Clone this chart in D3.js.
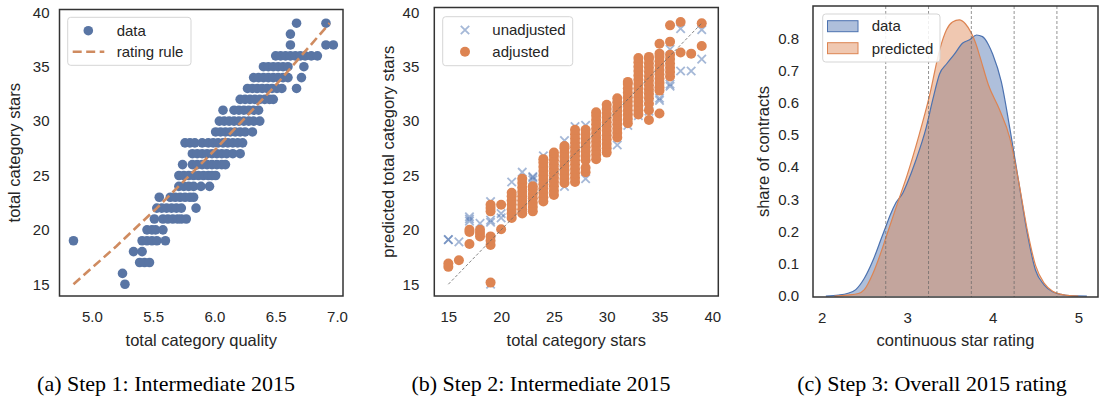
<!DOCTYPE html>
<html>
<head>
<meta charset="utf-8">
<script src="https://cdn.jsdelivr.net/npm/d3@7"></script>
<style>
  body { margin: 0; background: #fff; }
  svg text { font-family: "Liberation Sans", Arial, sans-serif; fill: #262626; }
  .caption { font-family: "Liberation Serif", "Times New Roman", serif; font-size: 22px; fill: #000; }
</style>
</head>
<body>
<div id="chart"></div>
<script>
// ---- panel (a): total category quality vs stars, one row per star total
var step1Stars = [39, 38, 37, 36, 35, 34, 33, 32, 31, 30, 29, 28, 27, 26, 25, 24, 23, 22, 21, 20, 19, 18, 17, 16, 15];
var step1Quality = [
  [6.67, 6.91],
  [6.62],
  [6.62, 6.91, 6.97],
  [6.50, 6.54, 6.58, 6.62, 6.66, 6.70, 6.74, 6.79, 6.84],
  [6.40, 6.44, 6.48, 6.52, 6.56, 6.60, 6.73],
  [6.32, 6.36, 6.40, 6.44, 6.48, 6.52, 6.56, 6.60, 6.71],
  [6.27, 6.31, 6.35, 6.39, 6.43, 6.47, 6.51, 6.55, 6.67],
  [6.21, 6.25, 6.29, 6.33, 6.37, 6.41, 6.45, 6.48],
  [6.07, 6.16, 6.20, 6.24, 6.28, 6.32, 6.36],
  [6.04, 6.08, 6.12, 6.16, 6.20, 6.24, 6.28, 6.32, 6.37],
  [6.01, 6.05, 6.09, 6.13, 6.17, 6.21, 6.25, 6.31],
  [5.76, 5.80, 5.84, 5.90, 5.95, 5.99, 6.03, 6.07, 6.11, 6.15, 6.19, 6.23],
  [5.82, 5.86, 5.90, 5.94, 5.98, 6.02, 6.06, 6.10, 6.15, 6.21],
  [5.74, 5.82, 5.86, 5.90, 5.94, 5.98, 6.02, 6.06, 6.09],
  [5.71, 5.75, 5.79, 5.83, 5.87, 5.91, 5.95, 5.98, 6.01],
  [5.71, 5.75, 5.79, 5.83, 5.89, 5.96],
  [5.55, 5.64, 5.68, 5.72, 5.76, 5.80, 5.83],
  [5.53, 5.57, 5.61, 5.65, 5.69, 5.73, 5.85],
  [5.51, 5.58, 5.62, 5.66, 5.70, 5.73, 5.77],
  [5.45, 5.49, 5.52, 5.58],
  [4.85, 5.41, 5.45, 5.49, 5.53, 5.60],
  [5.34, 5.41],
  [5.39, 5.43, 5.47],
  [5.25],
  [5.27]
];
var ruleQuality = [4.85, 5.2, 5.53, 6.0, 6.5, 6.94];
var ruleStars = [15, 18.5, 22.0, 27.3, 33.3, 39.0];
var qualityTicks = [5.0, 5.5, 6.0, 6.5, 7.0];
var starTicks = [15, 20, 25, 30, 35, 40];

// ---- panel (b): actual vs predicted total category stars
var step2Stars = [15, 16, 17, 18, 19, 20, 21, 22, 23, 24, 25, 26, 27, 28, 29, 30, 31, 32, 33, 34, 35, 36, 37, 38, 39];
var step2Adjusted = [
  [16.6, 16.9],
  [17.2],
  [18.7, 19.8, 20.0],
  [19.4, 19.7, 20.0],
  [15.15, 18.6, 19.0, 19.4, 21.7, 22.0, 22.3],
  [20.05, 22.3],
  [21.1, 21.5, 21.9, 22.3, 22.7, 23.1, 23.4],
  [21.5, 21.9, 22.3, 22.7, 23.1, 23.5, 23.9, 24.3, 24.7],
  [21.7, 22.1, 22.5, 22.9, 23.3, 23.7, 24.0],
  [22.6, 23.0, 23.4, 23.8, 24.2, 24.6, 25.0, 25.4, 25.8, 26.2, 26.5],
  [23.2, 23.6, 24.0, 24.4, 24.8, 25.2, 25.6, 26.0, 26.4, 26.8, 27.1],
  [24.3, 24.7, 25.1, 25.5, 25.9, 26.3, 26.7, 27.1, 27.5, 27.7],
  [24.4, 24.8, 25.2, 25.6, 26.0, 26.4, 26.8, 27.2, 27.6, 28.0, 28.4, 28.8, 29.2],
  [25.3, 25.7, 26.4, 26.8, 27.2, 27.6, 28.0, 28.4, 28.8, 29.2],
  [26.5, 26.9, 27.3, 27.7, 28.1, 28.5, 28.9, 29.3, 29.7, 30.1, 30.5, 30.8],
  [27.1, 27.5, 27.9, 28.3, 28.7, 29.1, 29.5, 29.9, 30.3, 30.7, 31.1, 31.5],
  [28.5, 28.9, 29.3, 29.7, 30.1, 30.5, 30.9, 31.3, 31.7, 32.1],
  [29.8, 30.2, 30.6, 31.0, 31.4, 31.8, 32.2, 32.6, 33.0, 33.4, 33.6],
  [30.6, 31.0, 31.4, 31.8, 32.2, 32.6, 33.0, 33.4, 33.8, 34.2, 34.6, 35.0, 35.4, 35.8],
  [30.1, 31.0, 31.6, 32.1, 32.5, 32.9, 33.3, 33.7, 34.1, 34.5, 34.9, 35.3, 35.7, 35.9],
  [30.7, 32.8, 33.1, 33.5, 33.9, 34.3, 34.7, 35.1, 35.5, 35.9, 36.2, 37.1],
  [34.1, 34.5, 34.9, 35.3, 35.7, 36.1, 37.3, 38.8],
  [36.3, 39.1],
  [36.2],
  [36.9, 39.0]
];
var step2Unadjusted = [
  [19.1, 19.1],
  [18.9],
  [20.8, 21.0, 21.2],
  [20.6],
  [15.0, 20.7, 20.9, 22.6],
  [21.1, 21.5],
  [22.0, 24.4],
  [23.0, 25.3],
  [24.6, 24.8, 24.9],
  [24.0, 26.8],
  [25.5],
  [24.0, 26.5, 28.2],
  [27.4, 27.6, 29.5],
  [24.7, 29.6],
  [28.5],
  [28.3, 30.0],
  [27.8, 31.4, 31.5],
  [29.6, 31.0],
  [30.5, 35.3],
  [30.9, 32.2, 32.4],
  [31.9, 32.1, 33.3, 33.6],
  [33.2, 33.4, 36.6],
  [34.6, 38.5],
  [34.6],
  [35.7, 38.4]
];
var diagonalStars = [15, 39];

// ---- panel (c): density of continuous star rating
var dataRatings = [2.05, 2.2, 2.3, 2.4, 2.5, 2.6, 2.7, 2.75, 2.8, 2.87, 2.95, 3.0, 3.1, 3.22, 3.3, 3.38, 3.46, 3.55, 3.65, 3.73, 3.81, 3.88, 3.95, 4.0, 4.1, 4.2, 4.3, 4.4, 4.5, 4.6, 4.7, 4.8, 4.9, 5.1];
var dataDensity = [0, 0.003, 0.008, 0.02, 0.055, 0.11, 0.18, 0.215, 0.25, 0.29, 0.32, 0.35, 0.42, 0.52, 0.61, 0.69, 0.72, 0.75, 0.785, 0.795, 0.81, 0.805, 0.78, 0.75, 0.665, 0.52, 0.36, 0.20, 0.08, 0.035, 0.013, 0.005, 0.001, 0];
var predRatings = [2.15, 2.3, 2.43, 2.5, 2.6, 2.7, 2.75, 2.89, 3.0, 3.14, 3.26, 3.38, 3.46, 3.53, 3.61, 3.68, 3.75, 3.8, 3.85, 3.95, 4.08, 4.2, 4.3, 4.4, 4.5, 4.6, 4.7, 4.8, 4.9, 5.0];
var predDensity = [0, 0.003, 0.008, 0.02, 0.07, 0.14, 0.18, 0.29, 0.375, 0.50, 0.62, 0.764, 0.826, 0.85, 0.857, 0.845, 0.816, 0.785, 0.743, 0.655, 0.578, 0.49, 0.36, 0.21, 0.095, 0.04, 0.015, 0.005, 0.001, 0];
var cutPoints = [2.75, 3.25, 3.75, 4.25, 4.75];
var ratingTicks = [2, 3, 4, 5];
var shareTicks = [0.0, 0.1, 0.2, 0.3, 0.4, 0.5, 0.6, 0.7, 0.8];

var captions = ["(a) Step 1: Intermediate 2015", "(b) Step 2: Intermediate 2015", "(c) Step 3: Overall 2015 rating"];

var blue = "#4C72B0";
var orange = "#DD8452";
var tickSize = "15px";
var labelSize = "16.5px";
var legendSize = "15px";

var svg = d3.select("#chart")
  .append("svg")
  .attr("width", 1102)
  .attr("height", 405);

// draws the ticks and labels of one panel
function drawAxes(box, x, y, xTicks, yTicks, xFmt, yFmt, xLabel, yLabel, yPad, yLabelX) {
  var g = svg.append("g");
  g.append("g")
    .attr("transform", `translate(0, ${box.bottom})`)
    .call(d3.axisBottom(x).tickValues(xTicks).tickFormat(xFmt).tickSize(0).tickPadding(15))
    .call(function(a) { a.select(".domain").remove(); })
    .selectAll("text")
    .style("font-size", tickSize)
    .style("font-family", "Liberation Sans, Arial, sans-serif")
    .attr("fill", "#262626");

  g.append("g")
    .attr("transform", `translate(${box.left}, 0)`)
    .call(d3.axisLeft(y).tickValues(yTicks).tickFormat(yFmt).tickSize(0).tickPadding(yPad))
    .call(function(a) { a.select(".domain").remove(); })
    .selectAll("text")
    .style("font-size", tickSize)
    .style("font-family", "Liberation Sans, Arial, sans-serif")
    .attr("fill", "#262626");

  g.append("text")
    .attr("x", (box.left + box.right) / 2)
    .attr("y", 346)
    .attr("text-anchor", "middle")
    .style("font-size", labelSize)
    .text(xLabel);

  g.append("text")
    .attr("transform", `translate(${yLabelX}, ${(box.top + box.bottom) / 2}) rotate(-90)`)
    .attr("text-anchor", "middle")
    .attr("dy", "0.35em")
    .style("font-size", labelSize)
    .text(yLabel);
}

function drawFrame(box) {
  svg.append("rect")
    .attr("x", box.left)
    .attr("y", box.top)
    .attr("width", box.right - box.left)
    .attr("height", box.bottom - box.top)
    .attr("fill", "none")
    .attr("stroke", "#333")
    .attr("stroke-width", 1.5);
}

function legendBox(x0, y0, w, h) {
  svg.append("rect")
    .attr("x", x0).attr("y", y0)
    .attr("width", w).attr("height", h)
    .attr("rx", 3)
    .attr("fill", "#fff")
    .attr("fill-opacity", 0.85)
    .attr("stroke", "#d5d5d5")
    .attr("stroke-width", 1);
}

function legendText(x0, y0, label) {
  svg.append("text")
    .attr("x", x0).attr("y", y0)
    .attr("dy", "0.35em")
    .style("font-size", legendSize)
    .text(label);
}

// ================= panel (a)
var boxA = {left: 59.5, right: 343, top: 9.5, bottom: 296};
var xA = d3.scaleLinear().domain([4.736, 7.049]).range([boxA.left, boxA.right]);
var yA = d3.scaleLinear().domain([13.92, 40.26]).range([boxA.bottom, boxA.top]);

var pointsA = [];
step1Stars.forEach(function(s, i) {
  step1Quality[i].forEach(function(q) { pointsA.push({q: q, s: s}); });
});

svg.append("g").selectAll("circle")
  .data(pointsA)
  .enter()
  .append("circle")
  .attr("cx", function(d) { return xA(d.q); })
  .attr("cy", function(d) { return yA(d.s); })
  .attr("r", 4.8)
  .attr("fill", "#5975A4");

var ruleLine = d3.line()
  .x(function(d, i) { return xA(ruleQuality[i]); })
  .y(function(d, i) { return yA(ruleStars[i]); });

svg.append("path")
  .attr("d", ruleLine(ruleQuality))
  .attr("fill", "none")
  .attr("stroke", "#CF8B60")
  .attr("stroke-width", 2.6)
  .attr("stroke-dasharray", "9,4.5");

drawFrame(boxA);
drawAxes(boxA, xA, yA, qualityTicks, starTicks, d3.format(".1f"), d3.format("d"),
  "total category quality", "total category stars", 10, 14);

legendBox(67.7, 17.3, 123.3, 48);
svg.append("circle").attr("cx", 88.3).attr("cy", 30.7).attr("r", 4.8).attr("fill", "#5975A4");
legendText(116.7, 30.7, "data");
svg.append("line")
  .attr("x1", 72.7).attr("x2", 104.3)
  .attr("y1", 51.7).attr("y2", 51.7)
  .attr("stroke", "#CF8B60")
  .attr("stroke-width", 2.6)
  .attr("stroke-dasharray", "9,4.5");
legendText(116.7, 51.7, "rating rule");

// ================= panel (b)
var boxB = {left: 434.3, right: 718.3, top: 7.5, bottom: 296};
var xB = d3.scaleLinear().domain([13.67, 40.57]).range([boxB.left, boxB.right]);
var yB = d3.scaleLinear().domain([13.92, 40.44]).range([boxB.bottom, boxB.top]);

var crossesB = [];
var dotsB = [];
step2Stars.forEach(function(s, i) {
  step2Unadjusted[i].forEach(function(p) { crossesB.push({s: s, p: p}); });
  step2Adjusted[i].forEach(function(p) { dotsB.push({s: s, p: p}); });
});

var crossPath = "M-4.2,-4.2L4.2,4.2M-4.2,4.2L4.2,-4.2";

svg.append("g").selectAll("path")
  .data(crossesB)
  .enter()
  .append("path")
  .attr("d", crossPath)
  .attr("transform", function(d) { return `translate(${xB(d.s)}, ${yB(d.p)})`; })
  .attr("stroke", blue)
  .attr("stroke-width", 1.8)
  .attr("stroke-opacity", 0.5)
  .attr("fill", "none");

svg.append("g").selectAll("circle")
  .data(dotsB)
  .enter()
  .append("circle")
  .attr("cx", function(d) { return xB(d.s); })
  .attr("cy", function(d) { return yB(d.p); })
  .attr("r", 5)
  .attr("fill", orange);

svg.append("line")
  .attr("x1", xB(diagonalStars[0])).attr("y1", yB(diagonalStars[0]))
  .attr("x2", xB(diagonalStars[1])).attr("y2", yB(diagonalStars[1]))
  .attr("stroke", "#666")
  .attr("stroke-width", 0.8)
  .attr("stroke-dasharray", "3,2");

drawFrame(boxB);
drawAxes(boxB, xB, yB, starTicks, starTicks, d3.format("d"), d3.format("d"),
  "total category stars", "predicted total category stars", 15, 388);

legendBox(442.7, 16.7, 130, 49);
svg.append("path")
  .attr("d", crossPath)
  .attr("transform", "translate(465, 30)")
  .attr("stroke", blue)
  .attr("stroke-width", 1.8)
  .attr("stroke-opacity", 0.5)
  .attr("fill", "none");
legendText(492.3, 30, "unadjusted");
svg.append("circle").attr("cx", 465).attr("cy", 51.7).attr("r", 5).attr("fill", orange);
legendText(492.3, 51.7, "adjusted");

// ================= panel (c)
var boxC = {left: 813, right: 1098, top: 6, bottom: 297};
var xC = d3.scaleLinear().domain([1.90, 5.23]).range([boxC.left, boxC.right]);
var yC = d3.scaleLinear().domain([-0.003, 0.9]).range([boxC.bottom, boxC.top]);

function densityArea(xs) {
  return d3.area()
    .x(function(d, i) { return xC(xs[i]); })
    .y0(yC(0))
    .y1(function(d) { return yC(d); })
    .curve(d3.curveMonotoneX);
}
function densityLine(xs) {
  return d3.line()
    .x(function(d, i) { return xC(xs[i]); })
    .y(function(d) { return yC(d); })
    .curve(d3.curveMonotoneX);
}

svg.append("path")
  .attr("d", densityArea(dataRatings)(dataDensity))
  .attr("fill", blue)
  .attr("fill-opacity", 0.45);
svg.append("path")
  .attr("d", densityArea(predRatings)(predDensity))
  .attr("fill", orange)
  .attr("fill-opacity", 0.45);
svg.append("path")
  .attr("d", densityLine(dataRatings)(dataDensity))
  .attr("fill", "none")
  .attr("stroke", blue)
  .attr("stroke-width", 1.2);
svg.append("path")
  .attr("d", densityLine(predRatings)(predDensity))
  .attr("fill", "none")
  .attr("stroke", orange)
  .attr("stroke-width", 1.2);

svg.append("g").selectAll("line")
  .data(cutPoints)
  .enter()
  .append("line")
  .attr("x1", function(d) { return xC(d); })
  .attr("x2", function(d) { return xC(d); })
  .attr("y1", boxC.top)
  .attr("y2", boxC.bottom)
  .attr("stroke", "#666")
  .attr("stroke-opacity", 0.7)
  .attr("stroke-width", 1)
  .attr("stroke-dasharray", "3,2");

drawFrame(boxC);
drawAxes(boxC, xC, yC, ratingTicks, shareTicks, d3.format("d"), d3.format(".1f"),
  "continuous star rating", "share of contracts", 14, 763);

legendBox(822.7, 14, 117.3, 48);
svg.append("rect").attr("x", 827.5).attr("y", 20.7).attr("width", 30.5).attr("height", 11)
  .attr("fill", blue).attr("fill-opacity", 0.45).attr("stroke", blue).attr("stroke-width", 1);
legendText(871.7, 25.7, "data");
svg.append("rect").attr("x", 827.5).attr("y", 42.7).attr("width", 30.5).attr("height", 11)
  .attr("fill", orange).attr("fill-opacity", 0.45).attr("stroke", orange).attr("stroke-width", 1);
legendText(871.7, 48.3, "predicted");

// ================= captions
var captionX = [166, 541, 932];
svg.append("g").selectAll("text")
  .data(captions)
  .enter()
  .append("text")
  .attr("class", "caption")
  .attr("x", function(d, i) { return captionX[i]; })
  .attr("y", 391)
  .attr("text-anchor", "middle")
  .text(function(d) { return d; });
</script>
</body>
</html>
